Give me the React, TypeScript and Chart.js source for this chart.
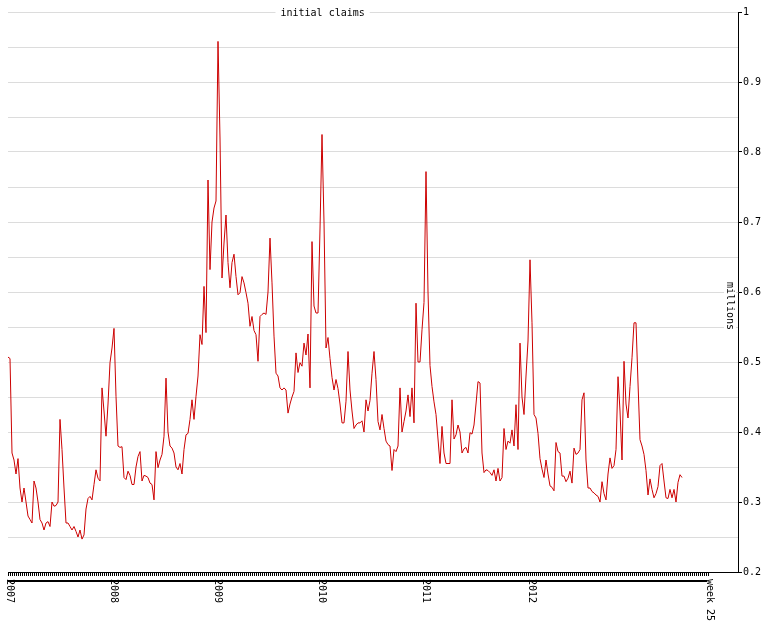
import React, { useEffect, useRef } from 'react';
import { Chart, registerables } from 'chart.js';
Chart.register(...registerables);

// weekly initial claims, millions (week 1 of 2007 onward)
const claims2007 = [0.507, 0.505, 0.37, 0.36, 0.34, 0.362, 0.32, 0.30, 0.32, 0.30,
  0.28, 0.275, 0.27, 0.33, 0.32, 0.30, 0.275, 0.27, 0.26, 0.27,
  0.272, 0.265, 0.30, 0.294, 0.295, 0.30, 0.418, 0.375, 0.32, 0.27,
  0.27, 0.265, 0.26, 0.265, 0.258, 0.25, 0.26, 0.247, 0.253, 0.29,
  0.305, 0.308, 0.303, 0.325, 0.346, 0.334, 0.33, 0.463, 0.43, 0.394,
  0.44, 0.499];
const claims2008 = [0.52, 0.548, 0.451, 0.38, 0.378, 0.379, 0.335, 0.332,
  0.344, 0.338, 0.325, 0.325, 0.35, 0.365, 0.372, 0.33, 0.338, 0.337,
  0.335, 0.327, 0.325, 0.303, 0.372, 0.349, 0.36, 0.368, 0.394, 0.477,
  0.40, 0.38, 0.377, 0.37, 0.35, 0.346, 0.355, 0.34, 0.375, 0.396,
  0.398, 0.418, 0.446, 0.418, 0.451, 0.48, 0.539, 0.525, 0.608, 0.542,
  0.76, 0.632, 0.70, 0.72];
const claims2009 = [0.73, 0.958, 0.82, 0.62, 0.67, 0.71,
  0.642, 0.606, 0.642, 0.654, 0.622, 0.596, 0.599, 0.622, 0.613, 0.599,
  0.584, 0.551, 0.565, 0.545, 0.539, 0.501, 0.565, 0.568, 0.57, 0.568,
  0.60, 0.677, 0.613, 0.537, 0.484, 0.48, 0.463, 0.46, 0.463, 0.46,
  0.427, 0.44, 0.45, 0.458, 0.513, 0.485, 0.499, 0.494, 0.527, 0.51,
  0.54, 0.463, 0.672, 0.58, 0.57, 0.57];
const claims2010 = [0.69, 0.825, 0.70, 0.52,
  0.535, 0.505, 0.478, 0.46, 0.475, 0.462, 0.44, 0.413, 0.413,
  0.444, 0.515, 0.46, 0.43, 0.405, 0.41, 0.413, 0.413, 0.416, 0.40, 0.446,
  0.43, 0.445, 0.484, 0.515, 0.475, 0.415, 0.403, 0.425, 0.405, 0.387,
  0.382, 0.38, 0.345, 0.375, 0.372, 0.38, 0.463, 0.40, 0.415, 0.43,
  0.453, 0.422, 0.463, 0.413, 0.584, 0.50, 0.50, 0.546];
const claims2011 = [0.585, 0.772,
  0.60, 0.495, 0.465, 0.443, 0.425, 0.39, 0.355, 0.408, 0.37, 0.355,
  0.355, 0.355, 0.446, 0.39, 0.396, 0.41, 0.40, 0.37, 0.376, 0.378,
  0.37, 0.399, 0.397, 0.41, 0.44, 0.472, 0.47, 0.37, 0.342, 0.346,
  0.345, 0.342, 0.338, 0.346, 0.33, 0.348, 0.33, 0.335, 0.405, 0.375,
  0.387, 0.384, 0.403, 0.38, 0.439, 0.375, 0.527, 0.45, 0.425, 0.48];
const claims2012 = [0.53, 0.646, 0.556, 0.425, 0.42, 0.398, 0.362, 0.347, 0.335, 0.36,
  0.34, 0.323, 0.321, 0.316, 0.385, 0.372, 0.37, 0.337, 0.337, 0.329,
  0.334, 0.344, 0.327, 0.377, 0.368, 0.37, 0.375, 0.446, 0.456, 0.36,
  0.32, 0.32, 0.315, 0.313, 0.31, 0.308, 0.30, 0.329, 0.312, 0.303,
  0.34, 0.363, 0.348, 0.352, 0.375, 0.479, 0.43, 0.36, 0.501, 0.44,
  0.42, 0.465, 0.506];
const claims2013 = [0.556, 0.556, 0.47, 0.389, 0.38, 0.368, 0.345,
  0.31, 0.333, 0.318, 0.306, 0.312, 0.322, 0.352, 0.355, 0.33, 0.306,
  0.305, 0.318, 0.306, 0.318, 0.30, 0.328, 0.339, 0.335];

const yearLabels = ['2007', '2008', '2009', '2010', '2011', '2012'];
const yearStartWeeks = [0, 52, 104, 156, 208, 261];
const endLabel = 'week 25';
const endLabelWeek = 350;
const titleText = 'initial claims';
const yAxisTitle = 'millions';
const yMin = 0.2;
const yMax = 1;
const xMaxWeek = 365;

const FONT = '10px "DejaVu Sans Mono", "Liberation Mono", monospace';

export default function App() {
  const ref = useRef<HTMLCanvasElement>(null);
  useEffect(() => {
    const all = [...claims2007, ...claims2008, ...claims2009, ...claims2010,
      ...claims2011, ...claims2012, ...claims2013];
    const data = all.map((v, i) => ({ x: i, y: v }));

    const overlay = {
      id: 'overlay',
      afterDraw(chart: any) {
        const { ctx, chartArea, scales } = chart;
        const xs = scales.x;
        const b = chartArea.bottom;
        ctx.save();
        ctx.fillStyle = '#000';
        ctx.strokeStyle = '#000';
        ctx.lineWidth = 1;
        // weekly tick strip
        ctx.beginPath();
        for (let w = 0; w <= endLabelWeek; w++) {
          const x = Math.round(xs.getPixelForValue(w)) + 0.5;
          ctx.moveTo(x, b);
          ctx.lineTo(x, b + 4);
        }
        ctx.stroke();
        // thick axis line
        const x0 = Math.round(xs.getPixelForValue(0));
        const x1 = Math.round(xs.getPixelForValue(endLabelWeek - 0.5));
        ctx.fillRect(x0, b + 8, x1 - x0, 2);
        // rotated labels
        ctx.font = FONT;
        ctx.textAlign = 'left';
        ctx.textBaseline = 'middle';
        const drawRot = (txt: string, w: number) => {
          const x = Math.round(xs.getPixelForValue(w)) + 1.5;
          ctx.save();
          ctx.translate(x, b + 7);
          ctx.rotate(Math.PI / 2);
          ctx.fillText(txt, 0, 0);
          ctx.restore();
        };
        yearLabels.forEach((l, i) => drawRot(l, yearStartWeeks[i]));
        drawRot(endLabel, endLabelWeek);
        // title
        const tx = chartArea.left + (chartArea.right - chartArea.left) * 0.431;
        const ty = chartArea.top + 1;
        const tw = ctx.measureText(titleText).width;
        ctx.fillStyle = '#fff';
        ctx.fillRect(tx - tw / 2 - 5, ty - 6, tw + 10, 12);
        ctx.fillStyle = '#000';
        ctx.textAlign = 'center';
        ctx.fillText(titleText, tx, ty);
        // y axis title
        const mx = chartArea.right - 8;
        const my = chartArea.top + (chartArea.bottom - chartArea.top) * 0.525;
        const mw = ctx.measureText(yAxisTitle).width;
        ctx.fillStyle = '#fff';
        ctx.fillRect(mx - 6, my - mw / 2 - 4, 12, mw + 8);
        ctx.fillStyle = '#000';
        ctx.save();
        ctx.translate(mx, my);
        ctx.rotate(Math.PI / 2);
        ctx.textAlign = 'center';
        ctx.textBaseline = 'middle';
        ctx.fillText(yAxisTitle, 0, 0);
        ctx.restore();
        ctx.restore();
      },
    };

    const isMajor = (v: number) => Math.round(v * 100) % 10 === 0;

    const chart = new Chart(ref.current as HTMLCanvasElement, {
      type: 'line',
      data: {
        datasets: [{
          data,
          borderColor: '#cc0000',
          borderWidth: 1,
          pointRadius: 0,
          tension: 0,
          fill: false,
        }],
      },
      options: {
        animation: false,
        responsive: false,
        layout: { padding: { left: 8, top: 12, right: 0, bottom: 54 } },
        plugins: { legend: { display: false }, tooltip: { enabled: false }, title: { display: false } },
        scales: {
          x: { type: 'linear', min: 0, max: xMaxWeek, display: false },
          y: {
            position: 'right',
            min: yMin,
            max: yMax,
            afterFit: (s: any) => { s.width = 36; },
            border: { display: true, color: '#000', width: 1 },
            grid: {
              color: (c: any) => (Math.round(c.tick.value * 100) === 20 ? '#000' : '#dcdcdc'),
              tickLength: 4,
              tickColor: (c: any) => (isMajor(c.tick.value) ? '#000' : 'rgba(0,0,0,0)'),
            },
            ticks: {
              stepSize: 0.05,
              autoSkip: false,
              color: '#000',
              padding: 1,
              font: { family: '"DejaVu Sans Mono", monospace', size: 10 },
              callback: (v: any) => {
                const r = Math.round(Number(v) * 100);
                return r % 10 === 0 ? String(r / 100) : '';
              },
            },
          },
        },
      },
      plugins: [overlay],
    } as any);
    return () => chart.destroy();
  }, []);
  return (
    <div style={{ position: 'absolute', left: 0, top: 0, width: 774, height: 626, background: '#fff' }}>
      <canvas ref={ref} width={774} height={626} />
    </div>
  );
}
